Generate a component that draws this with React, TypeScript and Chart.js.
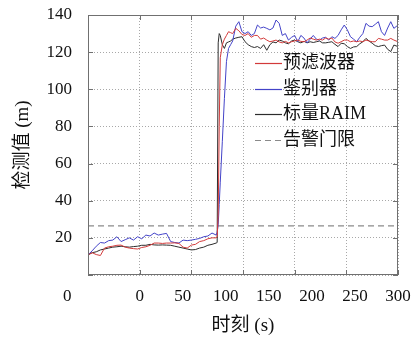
import { useEffect, useRef } from 'react';
import { Chart, registerables } from 'chart.js';

Chart.register(...registerables);

// time samples (s)
const tLow = [0, 4, 8, 12, 16, 20, 24, 28, 32, 36, 40, 44, 48, 52, 56, 60, 64, 68, 72, 76, 80, 84, 88, 92, 96, 100, 104, 108, 112, 116, 120, 124];
const tHigh = [125, 126, 127, 128, 130, 132, 134, 136, 138, 140,
  143, 146, 149, 152, 155, 158, 161, 164, 167, 170, 173, 176, 179, 182, 185, 188, 191, 194, 197, 200,
  203, 206, 209, 212, 215, 218, 221, 224, 227, 230, 233, 236, 239, 242, 245, 248, 251, 254, 257, 260,
  263, 266, 269, 272, 275, 278, 281, 284, 287, 290, 293, 296, 300];

// 预滤波器 (red)
const preLow = [10.8, 12, 11, 10.5, 14.5, 15.2, 15.5, 16, 16.1, 15, 14.5, 14.2, 14, 14.8, 15.2, 16, 17.2, 17.2, 17, 17.2, 17.2, 17.3, 17, 15, 14.5, 16.1, 16.5, 18, 18.5, 19.5, 20, 20];
const preHigh = [20.5, 32, 80, 117, 124, 127, 129, 131, 130.5, 130,
  132.8, 131.5, 129.5, 129, 130, 128, 129, 129, 127, 127.6, 126.5, 125.6, 126, 126.5, 125.5, 125, 125.8, 125, 125.6, 126,
  126.5, 125.8, 125.6, 126.5, 127.6, 127, 126.5, 127, 126.5, 127.6, 127, 127.6, 125.5, 124.8, 125.6, 126.5, 126.5, 125.6, 126, 125.6,
  126, 125.6, 126.5, 126, 125.6, 125.6, 127.4, 127, 126.5, 126.5, 127.4, 126.5, 125.6];

// 鉴别器 (blue)
const discLow = [10.8, 13, 15.5, 17.5, 17.2, 18.5, 18.8, 20.6, 18, 19, 20, 18.8, 20.6, 19.5, 21.5, 21, 22.6, 21.5, 22, 22.4, 18, 17.5, 17.2, 18.8, 18.5, 18.8, 19.2, 19.7, 20.6, 21, 22.6, 21.5];
const discHigh = [23, 27, 38, 50, 72, 95, 115, 122, 124, 126,
  134, 136.4, 131, 130, 131, 129, 130, 134.6, 133, 133.5, 132.8, 132, 133, 137.3, 135.5, 129, 130, 126.5, 128, 129,
  125.6, 129, 127.6, 125, 127, 129, 127, 126.5, 127.6, 128, 126.5, 128.3, 127.4, 129, 132, 134.6, 132, 128.3, 127, 125.6,
  128, 130, 135.5, 134, 133.7, 135, 136.4, 131, 129, 133, 136.4, 132.8, 134.6];

// 标量RAIM (black)
const raimLow = [10.8, 12, 12.5, 13.5, 14, 14.5, 15, 15.2, 15.5, 15.2, 15, 15.3, 15.5, 16, 16, 16.5, 16.2, 16.1, 16.2, 16.1, 16, 15.5, 15, 14.5, 14, 13.5, 13.7, 14.5, 15, 16, 16.5, 17.2];
const raimHigh = [17.5, 125, 130, 129, 124, 122, 125, 125.5, 126, 127,
  127.6, 128, 128.3, 125.6, 124, 123, 122.5, 123, 122, 124, 121, 124, 125.5, 125, 126.5, 126, 125, 124.5, 126, 126.5,
  125.6, 125, 125.8, 125, 125.6, 125.2, 125.6, 126, 125, 125, 125.3, 125.6, 124.2, 123, 124.8, 124.5, 123, 122, 122.8, 123,
  124.5, 125.6, 127.4, 126, 124.8, 123.5, 123, 123.5, 123.8, 121.5, 120.3, 123.8, 123];

// 告警门限
const thresholdValue = 26.4;
const thresholdSpan = [0, 300];

const seriesNames = ['预滤波器', '鉴别器', '标量RAIM', '告警门限'];
const seriesColors = ['#d23a3a', '#4343c8', '#2c2c2c', '#8a8a8a'];

const yTicks = { min: 0, max: 140, step: 20 };
const xRange = { min: 0, max: 300, step: 50 };
// bottom tick labels as printed in the figure, and where they sit (in seconds)
const xLabelText = ['0', '0', '50', '100', '150', '200', '250', '300'];
const xLabelAt = [-20, 50, 91.67, 133.33, 175, 216.67, 258.33, 300];

const SERIF = '"Liberation Serif", "Noto Sans CJK SC", serif';

const times = [...tLow, ...tHigh];
const toXY = (vals: number[]) => times.map((x, i) => ({ x, y: vals[i] }));

const decor = {
  id: 'decor',
  afterDraw(chart: any) {
    const { ctx, chartArea: ca, scales } = chart;
    const xs = scales.x;
    const ys = scales.y;
    ctx.save();
    // frame
    ctx.strokeStyle = '#707070';
    ctx.lineWidth = 1;
    ctx.setLineDash([]);
    ctx.strokeRect(ca.left + 0.5, ca.top + 0.5, ca.right - ca.left - 1, ca.bottom - ca.top - 1);
    // inward tick marks
    const tl = 5;
    ctx.beginPath();
    xs.ticks.forEach((t: any) => {
      const p = Math.round(xs.getPixelForValue(t.value)) + 0.5;
      ctx.moveTo(p, ca.bottom);
      ctx.lineTo(p, ca.bottom - tl);
      ctx.moveTo(p, ca.top);
      ctx.lineTo(p, ca.top + tl);
    });
    ys.ticks.forEach((t: any) => {
      const p = Math.round(ys.getPixelForValue(t.value)) + 0.5;
      ctx.moveTo(ca.left, p);
      ctx.lineTo(ca.left + tl, p);
      ctx.moveTo(ca.right, p);
      ctx.lineTo(ca.right - tl, p);
    });
    ctx.stroke();

    // bottom tick labels
    ctx.fillStyle = '#111';
    ctx.font = '17px ' + SERIF;
    ctx.textAlign = 'center';
    ctx.textBaseline = 'middle';
    xLabelText.forEach((s, i) => {
      ctx.fillText(s, xs.getPixelForValue(xLabelAt[i]), ca.bottom + 22);
    });

    // legend inside the plot
    const lx = Math.round(ca.left + 167);
    const ly = ca.top + 48;
    const rowH = 25.5;
    ctx.font = '18px ' + SERIF;
    ctx.textAlign = 'left';
    chart.data.datasets.forEach((ds: any, i: number) => {
      const y = Math.round(ly + i * rowH);
      ctx.beginPath();
      ctx.setLineDash(ds.borderDash || []);
      ctx.strokeStyle = seriesColors[i];
      ctx.lineWidth = 1.2;
      ctx.moveTo(lx, y + 0.5);
      ctx.lineTo(lx + 27, y + 0.5);
      ctx.stroke();
      ctx.setLineDash([]);
      ctx.fillStyle = '#111';
      ctx.fillText(ds.label, lx + 28, y);
    });
    ctx.restore();
  },
};

export default function App() {
  const ref = useRef<HTMLCanvasElement | null>(null);
  useEffect(() => {
    document.body.style.margin = '0';
    if (!ref.current) return;
    const chart = new Chart(ref.current, {
      type: 'line',
      data: {
        datasets: [
          { label: seriesNames[0], data: toXY([...preLow, ...preHigh]), borderColor: seriesColors[0], borderWidth: 1, pointRadius: 0 },
          { label: seriesNames[1], data: toXY([...discLow, ...discHigh]), borderColor: seriesColors[1], borderWidth: 1, pointRadius: 0 },
          { label: seriesNames[2], data: toXY([...raimLow, ...raimHigh]), borderColor: seriesColors[2], borderWidth: 1, pointRadius: 0 },
          {
            label: seriesNames[3],
            data: thresholdSpan.map((x) => ({ x, y: thresholdValue })),
            borderColor: seriesColors[3], borderWidth: 1.2, borderDash: [6, 4], pointRadius: 0,
          },
        ],
      },
      options: {
        animation: false,
        responsive: true,
        maintainAspectRatio: false,
        layout: { padding: { left: 0, top: 15, right: 14, bottom: 0 } },
        plugins: { legend: { display: false }, tooltip: { enabled: false } },
        elements: { line: { tension: 0 } },
        scales: {
          x: {
            type: 'linear',
            min: xRange.min,
            max: xRange.max,
            ticks: { display: false, stepSize: xRange.step },
            grid: { color: '#a8a8a8', lineWidth: 1, drawTicks: false },
            border: { display: false, dash: [1, 2] },
            title: { display: true, text: '时刻 (s)', color: '#111', font: { family: SERIF, size: 19 }, padding: { top: 0, bottom: 1 } },
            afterFit: (s: any) => { s.height = 63; },
          },
          y: {
            type: 'linear',
            min: yTicks.min,
            max: yTicks.max,
            ticks: {
              stepSize: yTicks.step,
              padding: 0,
              color: '#111',
              font: { family: SERIF, size: 17 },
              callback: (v: any) => (v === 0 ? '' : String(v)),
            },
            grid: { color: '#a8a8a8', lineWidth: 1, drawTicks: true, tickLength: 16, tickColor: 'rgba(0,0,0,0)' },
            border: { display: false, dash: [1, 2] },
            title: { display: true, text: '检测值 (m)', color: '#111', font: { family: SERIF, size: 19 }, padding: { top: 12, bottom: 0 } },
            afterFit: (s: any) => { s.width = 88; },
          },
        },
      },
      plugins: [decor],
    });
    return () => chart.destroy();
  }, []);
  return (
    <div style={{ width: 412, height: 338, position: 'relative' }}>
      <canvas ref={ref} />
    </div>
  );
}
